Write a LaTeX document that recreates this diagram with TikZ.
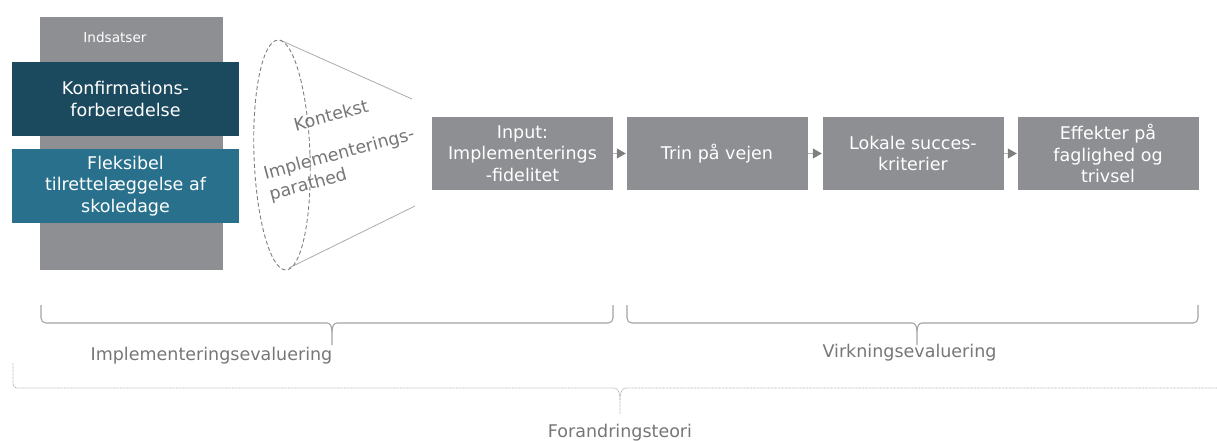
\documentclass[tikz,border=0pt]{standalone}
\usepackage{fontspec}
\setmainfont{DejaVu Sans}
\usetikzlibrary{arrows.meta}
\definecolor{boxgray}{HTML}{8E8F93}
\definecolor{darkteal}{HTML}{1B4A5F}
\definecolor{teal}{HTML}{28708C}
\definecolor{labelgray}{HTML}{767676}
\definecolor{bracegray}{HTML}{A3A3A3}
\definecolor{dotgray}{HTML}{B5B5B5}
\definecolor{conegray}{HTML}{ABABAB}
\definecolor{arrowgray}{HTML}{7F7F7F}
\newcommand{\bigtxt}{\fontsize{17.5}{21.5}\selectfont}
\tikzset{
  flowbox/.style={fill=boxgray, draw=none, text=white, minimum width=181pt, minimum height=73pt,
    inner sep=0pt, align=center, font=\bigtxt},
  inbox/.style={draw=none, text=white, minimum width=227pt, minimum height=74pt,
    inner sep=0pt, align=center, font=\bigtxt},
  lbl/.style={text=labelgray, font=\bigtxt, inner sep=0pt},
  flowarrow/.style={draw=dotgray, line width=1pt, -{Triangle[length=9pt,width=10pt,color=arrowgray]}, shorten >=0.5pt},
  bracepath/.style={draw=bracegray, line width=1.1pt},
  dotbrace/.style={draw=dotgray, line width=0.8pt, dash pattern=on 0.8pt off 0.6pt},
}
\begin{document}
\begin{tikzpicture}[x=1pt,y=-1pt]
\useasboundingbox (0,0) rectangle (1217,441);

% Indsatser column
\node[fill=boxgray, minimum width=183pt, minimum height=253pt, inner sep=0pt] (col) at (131.5,143.5) {};
\node[text=white, font=\fontsize{13.6}{16}\selectfont, inner sep=0pt] (ind) at (115,37) {Indsatser};
\node[inbox, fill=darkteal] (konf) at (125.5,99) {Konfirmations-\\forberedelse};
\node[inbox, fill=teal] (flex) at (125.5,186) {Fleksibel\\tilrettelæggelse af\\skoledage};

% Cone / ellipse
\coordinate (etop) at (280,40);
\coordinate (ebot) at (289,268);
\coordinate (ctop) at (412,99);
\coordinate (cbot) at (415,206);
\draw[conegray, line width=0.8pt] (etop) -- (ctop);
\draw[conegray, line width=0.8pt] (ebot) -- (cbot);
\draw[arrowgray, line width=0.9pt, dash pattern=on 4pt off 2.5pt, rotate around={2:(282,155)}]
  (282,155) ellipse [x radius=28, y radius=115];
\node[lbl, rotate=15] (kont) at (331,115) {Kontekst};
\node[lbl, rotate=15, align=left] (impar) at (342,165) {Implementerings-\\parathed};

% Flow boxes
\node[flowbox] (b1) at (522.5,153.5) {Input:\\Implementerings\\-fidelitet};
\node[flowbox] (b2) at (717,153.5) {Trin på vejen};
\node[flowbox] (b3) at (913,153.5) {Lokale succes-\\kriterier};
\node[flowbox] (b4) at (1108,153.5) {Effekter på\\faglighed og\\trivsel};
\draw[flowarrow] (b1.east) -- (b2.west);
\draw[flowarrow] (b2.east) -- (b3.west);
\draw[flowarrow] (b3.east) -- (b4.west);

% Brace 1
\draw[bracepath] (41,305) -- (41,318) .. controls (41,321) and (43,323) .. (46,323)
  -- (327,323) .. controls (330,323) and (332,326) .. (332,332) -- (332,345);
\draw[bracepath] (332,332) .. controls (332,326) and (334,323) .. (337,323)
  -- (608,323) .. controls (611,323) and (613,321) .. (613,318) -- (613,305);
\node[lbl] (impev) at (211.5,356) {Implementeringsevaluering};

% Brace 2
\draw[bracepath] (627,305) -- (627,318) .. controls (627,321) and (629,323) .. (632,323)
  -- (912,323) .. controls (915,323) and (917,326) .. (917,332) -- (917,345);
\draw[bracepath] (917,332) .. controls (917,326) and (919,323) .. (922,323)
  -- (1193,323) .. controls (1196,323) and (1198,321) .. (1198,318) -- (1198,305);
\node[lbl] (virk) at (909.5,353) {Virkningsevaluering};

% Dotted brace
\draw[dotbrace] (13,363) -- (13,384) .. controls (13,386.5) and (15,388) .. (17,388)
  -- (614,388) .. controls (618,388) and (620,392) .. (620,400) -- (620,414);
\draw[dotbrace] (620,400) .. controls (620,392) and (622,388) .. (626,388) -- (1217,388);
\node[lbl] (for) at (620,433) {Forandringsteori};
\end{tikzpicture}
\end{document}
